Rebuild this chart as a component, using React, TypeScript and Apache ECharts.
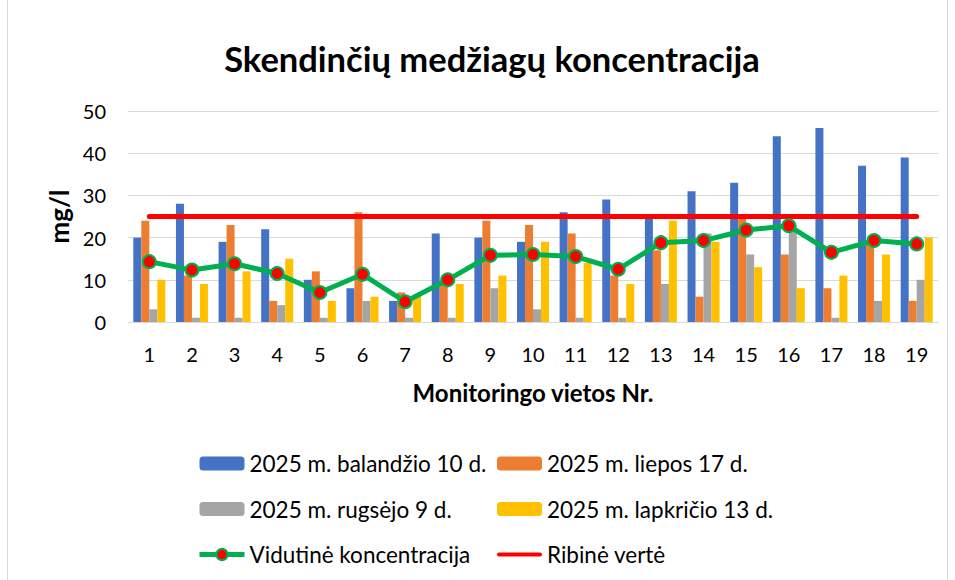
import React, { useEffect, useRef } from "react";
import * as echarts from "echarts";

const categories = ["1", "2", "3", "4", "5", "6", "7", "8", "9", "10", "11", "12", "13", "14", "15", "16", "17", "18", "19"];
const april = [20, 28, 19, 22, 10, 8, 5, 21, 20, 19, 26, 29, 25, 31, 33, 44, 46, 37, 39];
const july = [24, 11, 23, 5, 12, 26, 7, 9, 24, 23, 21, 11, 17, 6, 25, 16, 8, 19, 5];
const september = [3, 1, 1, 4, 1, 5, 1, 1, 8, 3, 1, 1, 9, 21, 16, 23, 1, 5, 10];
const november = [10, 9, 12, 15, 5, 6, 6, 9, 11, 19, 14, 9, 24, 19, 13, 8, 11, 16, 20];
const average = [14.3, 12.3, 13.8, 11.5, 7, 11.3, 4.8, 10, 15.8, 16, 15.5, 12.5, 18.8, 19.3, 21.8, 22.8, 16.5, 19.3, 18.5];
const limit = [25, 25, 25, 25, 25, 25, 25, 25, 25, 25, 25, 25, 25, 25, 25, 25, 25, 25, 25];
const yTicks = { min: 0, max: 50, interval: 10 };

const names = {
  april: "2025 m. balandžio 10 d.",
  july: "2025 m. liepos 17 d.",
  september: "2025 m. rugsėjo 9 d.",
  november: "2025 m. lapkričio 13 d.",
  average: "Vidutinė koncentracija",
  limit: "Ribinė vertė",
};

const FONT = "Lato, 'Open Sans', sans-serif";
const LINE_ICON = "path://M2,0 H43 A2,2 0 0 1 43,4 H2 A2,2 0 0 1 2,0 Z";

export default function App() {
  const ref = useRef<HTMLDivElement>(null);
  useEffect(() => {
    if (!ref.current) return;
    const chart = echarts.init(ref.current, undefined, { renderer: "svg" });
    const bar = (name: string, data: number[], color: string) => ({
      name,
      type: "bar",
      data,
      barWidth: 8,
      barGap: "0%",
      itemStyle: { color },
    });
    const legendText = { fontFamily: FONT, fontSize: 22.5, color: "#000", lineHeight: 22 };
    const legendBase = {
      orient: "vertical",
      top: 452,
      padding: 0,
      itemWidth: 45,
      itemHeight: 14,
      itemGap: 22.5,
      textStyle: legendText,
    };
    chart.setOption({
      animation: false,
      textStyle: { fontFamily: FONT },
      title: {
        text: "Skendinčių medžiagų koncentracija",
        left: 487,
        top: 36,
        textAlign: "center",
        textStyle: { fontFamily: FONT, fontSize: 34.5, fontWeight: "bold", color: "#000" },
      },
      graphic: [
        {
          type: "rect",
          shape: { x: 7.5, y: -5, width: 940, height: 600 },
          style: { fill: "none", stroke: "#d9d9d9", lineWidth: 1 },
          silent: true,
        },
      ],
      grid: { left: 128, right: 17, top: 111, bottom: 258 },
      xAxis: {
        type: "category",
        data: categories,
        name: "Monitoringo vietos Nr.",
        nameLocation: "middle",
        nameGap: 58,
        nameTextStyle: { fontFamily: FONT, fontSize: 24, fontWeight: "bold", color: "#000" },
        axisLine: { show: true, lineStyle: { color: "#d9d9d9", width: 1 } },
        axisTick: { show: false },
        axisLabel: { fontFamily: FONT, fontSize: 20, color: "#000", margin: 22 },
      },
      yAxis: {
        type: "value",
        min: yTicks.min,
        max: yTicks.max,
        interval: yTicks.interval,
        name: "mg/l",
        nameLocation: "middle",
        nameGap: 56,
        nameRotate: 90,
        nameTextStyle: { fontFamily: FONT, fontSize: 26, fontWeight: "bold", color: "#000" },
        axisLine: { show: false },
        axisTick: { show: false },
        splitLine: { lineStyle: { color: "#d9d9d9", width: 1 } },
        axisLabel: { fontFamily: FONT, fontSize: 20, color: "#000", margin: 22 },
      },
      legend: [
        {
          ...legendBase,
          left: 197,
          data: [
            names.april,
            names.september,
            { name: names.average, lineStyle: { width: 5, color: "#00b050" } },
          ],
        },
        {
          ...legendBase,
          left: 497,
          data: [names.july, names.november, { name: names.limit, icon: LINE_ICON }],
        },
      ],
      series: [
        bar(names.april, april, "#4472c4"),
        bar(names.july, july, "#ed7d31"),
        bar(names.september, september, "#a5a5a5"),
        bar(names.november, november, "#ffc000"),
        {
          name: names.limit,
          type: "line",
          data: limit,
          symbol: "none",
          lineStyle: { color: "#ff0000", width: 5, cap: "round" },
          itemStyle: { color: "#ff0000" },
          z: 3,
        },
        {
          name: names.average,
          type: "line",
          data: average,
          symbol: "circle",
          symbolSize: 13,
          lineStyle: { color: "#00b050", width: 5 },
          itemStyle: { color: "#ff0000", borderColor: "#00b050", borderWidth: 2 },
          z: 4,
        },
      ],
    });
    return () => chart.dispose();
  }, []);
  return (
    <div
      ref={ref}
      style={{ position: "fixed", left: 0, top: 0, width: 955, height: 580, background: "#fff" }}
    />
  );
}
